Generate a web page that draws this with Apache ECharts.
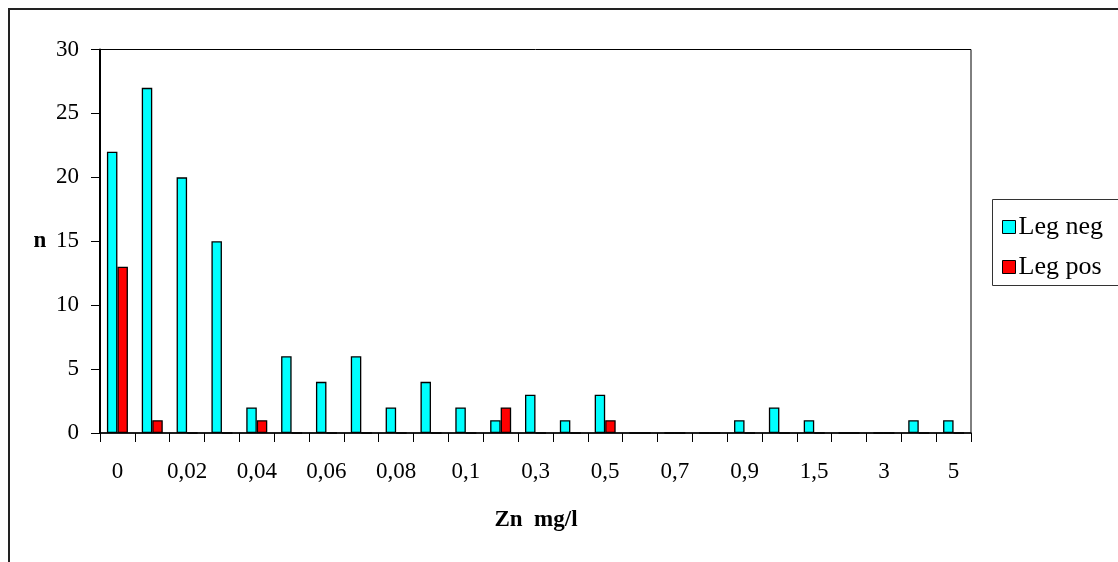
<!DOCTYPE html>
<html>
<head>
<meta charset="utf-8">
<script src="https://cdn.jsdelivr.net/npm/echarts@6/dist/echarts.min.js"></script>
<style>
html,body{margin:0;padding:0;background:#fff;}
#chart{width:1118px;height:562px;}
</style>
</head>
<body>
<div id="chart"></div>
<script>
var categories = ['0','0,01','0,02','0,03','0,04','0,05','0,06','0,07','0,08','0,09','0,1','0,2','0,3','0,4','0,5','0,6','0,7','0,8','0,9','1','1,5','2','3','4','5'];
var legNeg = [22,27,20,15,2,6,4,6,2,4,2,1,3,1,3,0,0,0,1,2,1,0,0,1,1];
var legPos = [13,1,0,0,1,0,0,0,0,0,0,2,0,0,1,0,0,0,0,0,0,0,0,0,0];
var seriesNames = ['Leg neg','Leg pos'];
var xTitle = 'Zn  mg/l';
var yTitle = 'n';

var FONT = "'Liberation Serif','Times New Roman',serif";
var chart = echarts.init(document.getElementById('chart'), null, {renderer:'canvas'});
chart.setOption({
  animation:false,
  backgroundColor:'#fff',
  grid:{left:100, right:147, top:49.5, bottom:129, show:true, borderColor:'#000', borderWidth:1, backgroundColor:'transparent'},
  legend:{
    orient:'vertical', left:1002, top:214, padding:0, itemGap:14, itemWidth:13, itemHeight:13,
    icon:'rect',
    textStyle:{fontFamily:FONT, fontSize:26, color:'#000', lineHeight:24, padding:[0,0,0,-2]},
    itemStyle:{borderColor:'#000', borderWidth:1},
    data:seriesNames
  },
  xAxis:{
    type:'category', data:categories, boundaryGap:true,
    axisLine:{lineStyle:{color:'#000', width:1.5}},
    axisTick:{show:true, interval:0, length:9, inside:false, lineStyle:{color:'#000'}},
    axisLabel:{interval:1, margin:27, color:'#000', fontFamily:FONT, fontSize:23, lineHeight:23},
    splitLine:{show:false}
  },
  yAxis:{
    type:'value', min:0, max:30, interval:5,
    axisLine:{show:true, lineStyle:{color:'#000', width:2}},
    axisTick:{show:true, length:9, lineStyle:{color:'#000'}},
    axisLabel:{margin:21, color:'#000', fontFamily:FONT, fontSize:23},
    splitLine:{show:false}
  },
  series:[
    {name:seriesNames[0], type:'bar', data:legNeg, barWidth:10.5, barGap:'0%',
     itemStyle:{color:'#00FFFF', borderColor:'#000', borderWidth:1.3}},
    {name:seriesNames[1], type:'bar', data:legPos, barWidth:10.5, barGap:'0%',
     itemStyle:{color:'#FF0000', borderColor:'#000', borderWidth:1.3}}
  ],
  graphic:[
    {type:'rect', left:6.5, top:6.5, shape:{x:0,y:0,width:1200,height:700}, style:{fill:'none', stroke:'#222', lineWidth:2}, silent:true},
    {type:'rect', shape:{x:992.5,y:199.5,width:200,height:86}, style:{fill:'#fff', stroke:'#333', lineWidth:1}, z:-1, silent:true},
    {type:'text', x:40, y:241, style:{text:yTitle, font:"bold 23px 'Liberation Serif','Times New Roman',serif", fill:'#000', textAlign:'center', textVerticalAlign:'middle'}},
    {type:'text', x:536, y:520, style:{text:xTitle, font:"bold 23px 'Liberation Serif','Times New Roman',serif", fill:'#000', textAlign:'center', textVerticalAlign:'middle'}}
  ]
});
</script>
</body>
</html>
